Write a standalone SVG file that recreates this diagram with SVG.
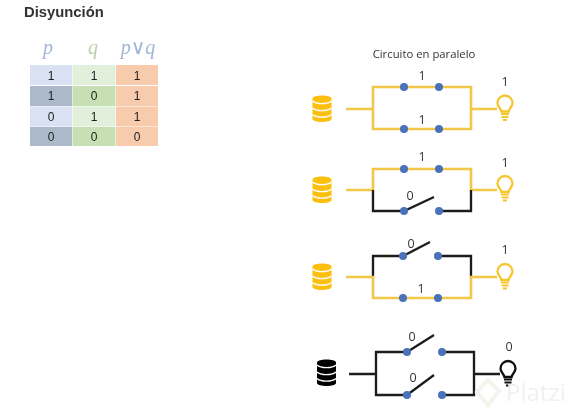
<svg xmlns="http://www.w3.org/2000/svg" width="575" height="413" viewBox="0 0 575 413">
<style>
.t{font-family:"Liberation Sans",Arial,sans-serif;fill:#222;font-size:12px;text-anchor:middle}
.c{font-family:"Open Sans","Noto Sans",sans-serif;fill:#333;font-size:12.500px;text-anchor:middle}
.h{font-family:"Liberation Serif","DejaVu Serif",serif;font-style:italic;font-size:20px;text-anchor:middle}
.w{fill:none;stroke-width:2.600;stroke-linejoin:miter;stroke-linecap:butt}
.y{stroke:#f2c646}
.k{stroke:#1f1f1f;stroke-width:2.300}
.d{fill:#4a72b8}
</style>
<defs>
<filter id="soft" x="0" y="0" width="100%" height="100%"><feGaussianBlur stdDeviation="0.4"/></filter>
<g id="db">
<path d="M-9.500-10.500C-9.500-14.500 9.500-14.500 9.500-10.500V10C9.500 14 -9.500 14 -9.500 10Z"/>
<path d="M-9.500-8C-6-4.500 6-4.500 9.500-8M-9.500-1C-6 2.500 6 2.500 9.500-1M-9.500 5.500C-6 9 6 9 9.500 5.500" fill="none" stroke="#fff" stroke-width="1.300"/>
</g>
<g id="bulb">
<path d="M-3.600 8C-4 4.500 -7.500 3.500 -7.500 -0.500A7.500 7.500 0 0 1 7.500 -0.500C7.500 3.500 4 4.500 3.600 8Z" fill="#fff" stroke="currentColor" stroke-width="2.300"/>
<path d="M-4 10.500H4M-3.500 13.500H3.500M-2 16.500H2" stroke="currentColor" stroke-width="2" fill="none"/>
</g>
</defs>
<rect width="575" height="413" fill="#fff"/>
<g filter="url(#soft)">
<text x="24" y="17" font-family="Liberation Sans,Arial,sans-serif" font-weight="700" font-size="14.800" fill="#333">Disyunción</text>
<g id="table">
<text class="h" x="48" y="54" fill="#a3b4d6">p</text>
<text class="h" x="93" y="54" fill="#b9d0a8">q</text>
<text class="h" x="138" y="54" fill="#a3b4d6">p∨q</text>
<rect x="30" y="65" width="42" height="20" fill="#d9e1f2"/><rect x="72.500" y="65" width="43" height="20" fill="#e2efda"/><rect x="116" y="65" width="42" height="20" fill="#f8cbad"/>
<rect x="30" y="86" width="42" height="20" fill="#acb9ca"/><rect x="72.500" y="86" width="43" height="20" fill="#c6e0b4"/><rect x="116" y="86" width="42" height="20" fill="#f8cbad"/>
<rect x="30" y="106.500" width="42" height="20" fill="#d9e1f2"/><rect x="72.500" y="106.500" width="43" height="20" fill="#e2efda"/><rect x="116" y="106.500" width="42" height="20" fill="#f8cbad"/>
<rect x="30" y="127" width="42" height="19" fill="#acb9ca"/><rect x="72.500" y="127" width="43" height="19" fill="#c6e0b4"/><rect x="116" y="127" width="42" height="19" fill="#f8cbad"/>
<text class="t" x="51" y="80">1</text><text class="t" x="94" y="80">1</text><text class="t" x="137" y="80">1</text>
<text class="t" x="51" y="100">1</text><text class="t" x="94" y="100">0</text><text class="t" x="137" y="100">1</text>
<text class="t" x="51" y="121">0</text><text class="t" x="94" y="121">1</text><text class="t" x="137" y="121">1</text>
<text class="t" x="51" y="141">0</text><text class="t" x="94" y="141">0</text><text class="t" x="137" y="141">0</text>
</g>
<text class="c" x="424" y="58" style="font-size:11.300px">Circuito en paralelo</text>
<g id="connectors">
<path class="w y" d="M346 109H373M373 109V87H471V109M373 109V129H471V109M471 109H497"/>
<path class="w y" d="M346 190H373V169H471V190H497"/>
<path class="w k" d="M373 190V211H404L434 197M439 211H471V190"/>
<path class="w k" d="M373 277V256H403L430 242M438 256H471V277"/>
<path class="w y" d="M346 277H373V298H471V277H497"/>
<path class="w k" d="M349 374H376M376 374V352H407L434 335M442 352H474V395H442M407 395H376V374M407 395L434 375M474 374H500"/>
</g>
<g id="circuit1">
<use href="#db" x="322" y="109" fill="#fbc011"/>
<circle class="d" cx="404" cy="87" r="4"/><circle class="d" cx="439" cy="87" r="4"/><circle class="d" cx="404" cy="129" r="4"/><circle class="d" cx="439" cy="129" r="4"/>
<text class="c" x="422" y="80">1</text><text class="c" x="422" y="124">1</text><text class="c" x="505" y="86">1</text>
<use href="#bulb" x="505" y="103.500" color="#f7c52f"/>
</g>
<g id="circuit2">
<use href="#db" x="322" y="190" fill="#fbc011"/>
<circle class="d" cx="404" cy="169" r="4"/><circle class="d" cx="439" cy="169" r="4"/><circle class="d" cx="404" cy="211" r="4"/><circle class="d" cx="439" cy="211" r="4"/>
<text class="c" x="422" y="161">1</text><text class="c" x="410" y="200">0</text><text class="c" x="505" y="167">1</text>
<use href="#bulb" x="505" y="184" color="#f7c52f"/>
</g>
<g id="circuit3">
<use href="#db" x="322" y="277" fill="#fbc011"/>
<circle class="d" cx="403" cy="256" r="4"/><circle class="d" cx="438" cy="256" r="4"/><circle class="d" cx="403" cy="298" r="4"/><circle class="d" cx="438" cy="298" r="4"/>
<text class="c" x="411" y="248">0</text><text class="c" x="421" y="293">1</text><text class="c" x="505" y="254">1</text>
<use href="#bulb" x="505" y="272" color="#f7c52f"/>
</g>
<g id="circuit4">
<use href="#db" x="326.500" y="373" fill="#000"/>
<circle class="d" cx="407" cy="352" r="4"/><circle class="d" cx="442" cy="352" r="4"/><circle class="d" cx="407" cy="395" r="4"/><circle class="d" cx="442" cy="395" r="4"/>
<text class="c" x="412" y="341">0</text><text class="c" x="413" y="382">0</text><text class="c" x="509" y="351">0</text>
<use href="#bulb" x="508" y="369" color="#111"/>
</g>
<g id="watermark">
<path d="M488 380L499 391L488 405L477 392Z" fill="none" stroke="#f3f5ec" stroke-width="4"/>
<text x="506" y="401" font-family="Open Sans,sans-serif" font-size="24" fill="#f0f0f0">Platzi</text>
</g>
</g>
</svg>
